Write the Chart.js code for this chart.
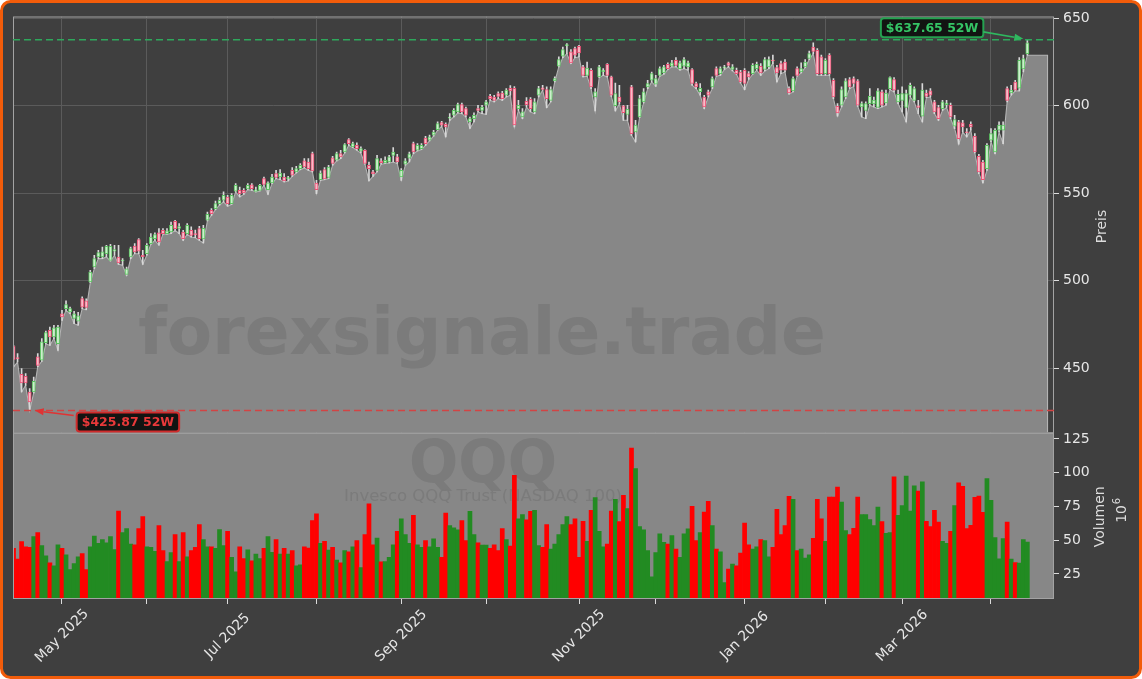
<!DOCTYPE html>
<html>
<head>
<meta charset="utf-8">
<title>QQQ 52W</title>
<script src="https://cdn.jsdelivr.net/npm/chart.js@4.4.1/dist/chart.umd.min.js"></script>
<style>
  html, body { margin: 0; padding: 0; background: #ffffff; }
  #wrap { width: 1142px; height: 679px; }
</style>
</head>
<body>
<div id="wrap"><canvas id="qqqChart" width="1142" height="679"></canvas></div>
<script>
/* ==========================================================================
   DATA - QQQ daily candles (trading day index 0 = first candle)
   ========================================================================== */
const opens = [
  462.6,455.9,446.6,445.4,436.5,436.5,456.5,454.6,464.7,471.7,
  467.9,464.1,481.2,484.1,482.2,478.5,477.0,489.8,488.5,499.3,
  507.9,513.6,513.6,515.5,511.7,517.0,513.6,511.3,503.7,513.6,
  519.9,523.5,514.6,515.5,521.2,524.1,527.4,528.9,527.0,527.9,
  534.0,530.0,527.9,527.0,528.9,527.0,529.8,524.0,534.6,540.3,
  541.2,544.1,546.0,547.9,544.1,551.2,551.7,551.7,552.5,554.9,
  551.0,551.7,558.4,552.0,555.9,561.2,559.3,559.3,558.4,563.1,
  562.2,564.1,568.5,567.9,572.7,555.9,557.8,563.5,559.0,570.2,
  568.9,572.7,573.6,580.7,576.5,577.4,574.0,574.6,566.0,562.2,
  563.1,568.5,567.3,567.9,571.7,570.8,559.3,566.6,570.0,578.4,
  574.6,575.5,581.6,580.3,583.2,586.4,590.4,589.4,592.9,594.6,
  596.5,600.7,598.4,590.8,592.7,598.4,597.4,600.3,605.4,605.0,
  607.0,607.3,606.0,610.0,610.0,598.4,593.6,602.6,603.7,596.5,
  606.0,610.2,609.2,603.1,614.2,622.6,628.3,634.4,630.8,632.7,
  634.0,622.2,617.4,620.3,605.0,616.5,619.5,623.7,616.5,600.0,
  605.0,600.0,595.0,610.8,585.0,593.6,602.2,610.8,614.6,612.3,
  617.4,618.8,623.7,622.6,626.0,621.2,622.6,622.2,620.7,612.7,
  608.0,605.0,607.9,610.8,621.2,618.4,621.6,624.5,620.7,620.3,
  619.3,620.3,618.4,618.4,621.2,622.6,620.7,622.2,626.0,621.8,
  624.1,625.0,609.8,608.5,621.2,619.3,622.2,627.0,633.6,631.7,
  627.9,618.4,628.9,614.6,599.7,600.3,605.0,614.9,615.5,614.2,
  599.3,597.4,601.2,601.0,599.0,607.9,601.6,609.8,615.0,602.2,
  603.0,599.0,606.0,603.1,600.0,594.0,607.3,608.5,602.2,599.0,
  598.4,600.7,600.3,588.3,590.8,590.2,585.0,589.4,582.6,571.1,
  567.9,564.1,580.3,573.6,586.0,586.0,609.8,607.3,613.6,610.0,
  621.0,629.8
];
const highs = [
  463.1,458.4,449.8,447.0,438.4,445.0,458.4,467.0,471.3,473.6,
  474.6,474.6,483.1,488.5,485.0,482.5,482.0,490.8,489.7,506.0,
  514.6,517.4,519.3,520.3,520.9,520.3,520.3,512.7,507.9,519.3,
  521.2,524.1,517.4,521.2,527.0,527.4,529.8,529.8,529.8,533.6,
  534.6,532.7,528.9,532.7,530.8,529.0,531.1,531.7,539.3,541.2,
  545.6,547.5,550.8,548.9,549.8,555.5,553.6,552.7,555.5,555.5,
  553.6,555.1,559.3,556.5,560.9,563.1,563.5,561.2,559.7,564.7,
  565.4,567.0,569.8,569.8,573.6,557.4,562.8,564.7,566.0,571.1,
  573.6,574.6,578.4,581.2,579.3,578.8,576.5,575.0,567.9,563.1,
  571.7,569.8,570.8,571.7,576.1,572.3,564.1,569.8,573.6,579.3,
  578.4,578.4,582.6,583.2,586.0,590.8,591.1,590.2,595.5,598.4,
  601.6,601.6,599.3,593.6,595.9,600.3,600.3,603.1,606.6,606.0,
  607.9,608.3,609.8,611.5,611.0,603.1,598.4,604.7,604.7,604.1,
  611.1,611.7,610.8,610.8,616.5,627.9,633.6,635.5,632.1,633.6,
  634.6,623.1,625.0,621.2,609.8,623.1,621.2,624.1,616.9,613.0,
  611.7,600.3,600.3,611.7,591.7,606.0,609.8,614.6,619.3,617.4,
  622.2,623.1,624.5,626.0,627.5,625.6,627.5,625.6,621.2,613.6,
  612.7,606.0,608.9,616.5,622.2,622.2,623.1,625.0,623.5,621.5,
  620.3,621.2,619.5,624.1,625.0,624.1,627.5,627.9,628.9,623.1,
  625.6,626.4,610.8,616.5,622.2,624.5,626.4,631.3,635.9,632.7,
  628.9,627.0,629.8,615.5,601.2,610.8,615.5,616.1,616.5,614.9,
  602.2,602.2,609.8,605.0,609.8,608.9,608.9,616.5,616.1,608.9,
  610.8,609.0,613.0,610.8,603.1,612.7,609.0,609.8,603.1,600.3,
  603.1,603.1,601.6,594.6,591.7,591.7,586.9,590.8,584.1,572.3,
  568.9,578.4,587.0,587.0,590.8,590.8,610.8,611.7,614.6,627.5,
  628.9,637.65
];
const lows = [
  450.8,453.6,436.5,440.3,425.87,436.0,451.0,454.0,464.0,463.1,
  467.0,460.3,477.4,483.1,481.2,475.5,474.6,484.1,483.5,499.0,
  507.0,512.7,512.7,513.6,511.3,514.6,509.4,508.9,503.1,512.7,
  515.5,515.5,509.4,514.6,520.9,523.1,520.3,526.6,526.6,527.0,
  528.9,527.0,523.1,526.6,525.0,524.6,523.1,521.6,534.2,537.4,
  540.7,543.2,545.1,542.6,543.7,550.8,547.9,549.4,552.1,551.7,
  550.8,551.3,554.5,549.4,555.5,558.4,557.8,556.5,557.0,559.7,
  561.6,563.5,564.5,563.1,562.2,549.8,557.4,557.8,558.4,566.0,
  568.5,569.8,573.0,577.4,576.1,574.6,573.0,566.6,557.1,559.7,
  562.2,566.6,567.0,567.3,567.9,567.0,557.4,566.0,567.9,572.7,
  574.2,575.0,577.4,579.9,582.6,586.0,588.3,582.2,591.7,593.6,
  595.9,595.5,593.6,587.0,590.8,596.5,595.5,595.1,603.1,602.2,
  604.1,603.1,605.0,606.0,587.9,597.4,592.7,599.3,596.5,595.5,
  605.0,608.9,598.9,602.2,613.6,622.2,627.5,629.8,624.1,627.5,
  627.9,616.5,616.9,609.8,597.0,616.1,617.4,616.5,605.4,597.0,
  601.2,591.7,591.7,583.1,579.3,593.2,601.6,609.8,613.6,611.1,
  616.9,618.0,620.7,622.2,622.2,620.3,621.2,620.3,611.7,609.8,
  606.0,598.4,605.0,609.8,616.9,617.4,620.7,622.2,619.9,618.0,
  613.0,609.2,615.0,618.0,620.3,617.4,619.9,621.2,624.1,613.6,
  618.4,619.3,606.6,607.9,616.9,618.8,621.8,626.4,629.8,617.4,
  617.4,617.4,617.4,604.1,594.0,599.3,604.1,609.8,611.0,599.7,
  593.6,592.7,600.3,599.3,598.4,599.3,600.3,609.2,607.9,601.2,
  596.5,590.8,605.0,602.2,595.5,590.8,604.6,605.0,595.5,591.7,
  597.4,599.0,592.7,586.9,578.0,585.0,582.2,586.0,573.0,561.2,
  555.9,563.1,579.5,572.7,585.0,578.4,602.2,606.0,608.5,608.5,
  619.3,628.9
];
const closes = [
  454.9,455.5,441.6,441.6,430.8,442.6,451.7,465.1,470.4,467.9,
  473.2,473.6,479.3,486.4,484.1,481.2,480.0,485.0,484.8,505.0,
  512.7,516.1,516.5,519.7,519.7,517.8,510.2,511.7,506.9,518.4,
  516.5,517.0,513.8,520.3,525.0,526.4,522.2,527.0,528.5,531.7,
  529.8,531.0,524.1,531.7,526.0,526.4,524.1,530.0,538.0,538.4,
  544.1,546.0,548.9,544.1,548.9,554.6,549.8,550.2,554.6,552.7,
  552.0,554.6,555.0,556.0,559.3,559.0,561.5,557.1,558.6,560.3,
  564.1,566.0,565.0,564.1,562.8,552.1,561.6,558.2,565.0,567.0,
  572.7,570.8,577.8,578.4,578.4,575.5,575.5,567.0,564.1,561.2,
  569.8,567.5,568.9,570.8,573.6,567.9,563.1,568.5,572.5,573.6,
  577.4,577.4,578.4,582.2,585.0,589.8,588.9,587.9,593.6,597.4,
  600.7,596.5,594.6,592.7,594.6,597.4,599.3,602.2,604.1,603.1,
  605.4,604.1,608.9,608.5,589.0,600.3,596.5,600.7,598.4,602.2,
  609.8,609.3,604.1,609.2,615.5,626.4,632.1,634.6,624.5,628.9,
  630.2,617.4,621.6,610.8,608.0,622.2,620.3,617.4,606.0,607.0,
  602.2,596.0,598.0,584.1,588.9,604.1,607.9,612.7,618.4,615.5,
  621.2,622.2,621.2,624.5,623.1,624.5,626.4,624.5,612.7,610.8,
  610.0,599.3,606.0,615.5,617.4,621.2,622.2,623.1,622.2,618.4,
  613.6,612.7,616.5,623.1,623.7,618.8,626.4,626.4,625.6,618.8,
  620.3,620.3,607.3,615.5,617.4,621.2,625.0,629.8,631.0,618.4,
  618.4,626.0,618.4,605.0,595.9,609.2,614.2,610.8,612.7,600.3,
  601.2,601.2,605.4,603.3,608.5,600.3,607.3,616.1,608.9,606.6,
  607.0,607.0,611.7,609.8,599.0,609.0,605.4,606.0,596.5,592.7,
  602.2,601.6,593.6,592.1,581.2,587.9,584.6,587.9,573.6,562.2,
  557.8,577.4,584.1,586.0,588.9,588.9,603.1,609.0,608.9,626.0,
  627.0,636.0
];
// Volumen in Mio.
const volumes = [
  43.9,35.9,48.9,45.1,44.6,52.6,55.6,45.9,38.4,33.2,
  31.0,46.6,43.9,39.2,28.2,32.7,37.7,40.0,28.2,45.1,
  53.1,47.6,50.4,48.1,52.6,43.1,71.5,55.6,58.6,47.1,
  46.6,58.6,67.5,45.1,44.6,41.7,60.8,42.2,34.2,40.7,
  54.1,34.2,55.6,37.7,42.2,44.6,61.6,50.4,45.1,45.1,
  43.9,57.8,45.9,56.6,37.2,26.5,45.1,36.4,42.9,34.7,
  39.7,36.4,43.9,52.6,40.9,50.4,39.7,43.9,39.7,42.2,
  31.0,31.7,45.1,44.1,64.5,69.5,47.6,49.1,42.7,44.6,
  35.2,33.2,42.2,41.4,45.1,49.6,29.7,54.1,77.0,46.6,
  51.6,33.9,34.2,37.2,46.6,56.6,65.8,54.1,47.6,68.3,
  46.6,44.6,49.6,45.1,50.9,44.6,37.2,70.0,60.8,59.1,
  57.6,64.5,49.6,71.3,54.1,48.1,46.4,46.4,43.9,46.6,
  42.2,58.6,50.4,45.6,98.1,65.8,69.0,65.0,71.3,72.0,
  45.9,44.6,61.6,43.4,47.1,54.1,61.6,67.5,61.6,65.8,
  37.2,64.0,49.1,72.0,81.5,56.6,45.1,47.1,71.5,80.2,
  63.8,83.2,73.3,118.3,103.1,60.1,57.6,42.2,22.8,40.7,
  54.6,48.4,47.1,53.4,43.4,37.2,54.6,58.3,75.0,49.6,
  55.6,70.8,78.7,60.8,43.4,41.4,18.5,28.5,32.2,31.0,
  40.4,62.6,46.6,43.4,45.1,50.4,49.6,37.7,44.6,72.8,
  54.1,60.8,82.4,80.2,42.2,43.4,36.7,39.2,51.4,80.2,
  65.8,49.1,81.9,81.9,89.4,78.2,57.1,54.1,58.8,81.9,
  69.0,69.0,65.3,60.8,74.5,63.8,55.1,55.6,96.9,68.3,
  75.7,97.4,71.5,90.2,86.4,93.2,64.0,60.1,72.0,63.3,
  49.1,47.6,56.6,75.7,92.4,89.9,58.6,60.9,81.7,82.6,
  70.7,95.7,79.5,51.9,36.2,51.2,63.3,35.9,33.4,33.0,
  50.4,48.6
];

// first trading day of each month (candle index) and its label
const monthTickIdx = [12, 33, 53, 75, 96, 117, 140, 159, 181, 201, 220, 242];
const monthTickLabels = ['May 2025', '', 'Jul 2025', '', 'Sep 2025', '', 'Nov 2025', '', 'Jan 2026', '', 'Mar 2026', ''];
const priceTicks = [450, 500, 550, 600, 650];
const volumeTicks = [25, 50, 75, 100, 125];

/* ==========================================================================
   STYLE
   ========================================================================== */
const BG = '#3f3f3f';
const PANEL_GRAY = '#878787';
const GRID = '#5b5b5b';
const FRAME = '#a3a3a3';
const TEXT = '#e6e6e6';
const FONT = '"DejaVu Sans", "Liberation Sans", sans-serif';

const PRICE_MIN = 413.3, PRICE_MAX = 651;
const VOL_MIN = 6.4, VOL_MAX = 129.7;
const X_MIN = -0.13, X_MAX = 257.6;

Chart.defaults.font.family = FONT;

const isUp = closes.map((c, i) => c >= opens[i]);
const lastIdx = closes.length - 1;

// grey area under the lows, carried flat to the right edge
const fillData = lows.map((l, i) => ({ x: i, y: l }));
fillData.push({ x: lastIdx + 5, y: lows[lastIdx] });
fillData.push({ x: lastIdx + 5, y: PRICE_MIN });

const wickData = lows.map((l, i) => ({ x: i, y: [l, highs[i]] }));
const bodyData = opens.map((o, i) => ({ x: i, y: [Math.min(o, closes[i]), Math.max(o, closes[i])] }));
const volData = volumes.map((v, i) => ({ x: i, y: v }));

/* ==========================================================================
   HELPERS
   ========================================================================== */
function roundRectPath(ctx, x, y, w, h, r) {
    ctx.beginPath();
    ctx.moveTo(x + r, y);
    ctx.arcTo(x + w, y, x + w, y + h, r);
    ctx.arcTo(x + w, y + h, x, y + h, r);
    ctx.arcTo(x, y + h, x, y, r);
    ctx.arcTo(x, y, x + w, y, r);
    ctx.closePath();
}

function drawArrow(ctx, x1, y1, x2, y2, color) {
    const a = Math.atan2(y2 - y1, x2 - x1);
    const head = 9, half = 3.5;
    const bx = x2 - head * Math.cos(a), by = y2 - head * Math.sin(a);
    ctx.strokeStyle = color;
    ctx.fillStyle = color;
    ctx.lineWidth = 1.6;
    ctx.setLineDash([]);
    ctx.beginPath();
    ctx.moveTo(x1, y1);
    ctx.lineTo(bx, by);
    ctx.stroke();
    ctx.beginPath();
    ctx.moveTo(x2, y2);
    ctx.lineTo(bx + half * Math.sin(a), by - half * Math.cos(a));
    ctx.lineTo(bx - half * Math.sin(a), by + half * Math.cos(a));
    ctx.closePath();
    ctx.fill();
}

function tagWidth(ctx, text) {
    ctx.font = 'bold 12.5px ' + FONT;
    return ctx.measureText(text).width + 10;
}

function drawTag(ctx, text, x, y, border, color) {
    const w = tagWidth(ctx, text), h = 19;
    roundRectPath(ctx, x, y, w, h, 3);
    ctx.fillStyle = '#121412';
    ctx.fill();
    ctx.lineWidth = 2;
    ctx.strokeStyle = border;
    ctx.stroke();
    ctx.fillStyle = color;
    ctx.textAlign = 'left';
    ctx.textBaseline = 'middle';
    ctx.fillText(text, x + 5, y + h / 2 + 0.5);
}

function hLineDashed(ctx, area, y, color) {
    ctx.save();
    ctx.strokeStyle = color;
    ctx.lineWidth = 1.5;
    ctx.setLineDash([7, 4]);
    ctx.beginPath();
    ctx.moveTo(area.left, y);
    ctx.lineTo(area.right, y);
    ctx.stroke();
    ctx.restore();
}

/* ==========================================================================
   DECOR PLUGIN (panels, watermark, annotations, labels)
   ========================================================================== */
const decorPlugin = {
    id: 'qqqDecor',
    beforeDraw(chart) {
        const ctx = chart.ctx;
        ctx.save();
        ctx.fillStyle = '#ffffff';
        ctx.fillRect(0, 0, chart.width, chart.height);
        roundRectPath(ctx, 1.5, 1.5, chart.width - 3, chart.height - 3, 9);
        ctx.fillStyle = BG;
        ctx.fill();
        ctx.restore();
    },
    beforeDatasetsDraw(chart) {
        const ctx = chart.ctx, a = chart.chartArea, v = chart.scales.v;
        ctx.save();
        ctx.fillStyle = PANEL_GRAY;
        ctx.fillRect(a.left, v.top, a.right - a.left, v.bottom - v.top);
        ctx.restore();
    },
    beforeDatasetDraw(chart, args) {
        if (args.index !== 1) return;
        // watermark sits above the grey fill but below bars and candles
        const ctx = chart.ctx, a = chart.chartArea, y = chart.scales.y;
        ctx.save();
        ctx.textAlign = 'center';
        ctx.fillStyle = '#7b7b7b';
        ctx.textBaseline = 'alphabetic';
        ctx.font = 'bold 66px ' + FONT;
        ctx.fillText('forexsignale.trade', a.left + 469, y.bottom - 79);
        ctx.textBaseline = 'middle';
        ctx.font = 'bold 58px ' + FONT;
        ctx.fillText('QQQ', a.left + 470, y.bottom + 34);
        ctx.font = '16.5px ' + FONT;
        ctx.fillText('Invesco QQQ Trust (NASDAQ 100)', a.left + 470, y.bottom + 64);
        ctx.restore();
    },
    afterDatasetsDraw(chart) {
        const ctx = chart.ctx, a = chart.chartArea;
        const x = chart.scales.x, y = chart.scales.y, v = chart.scales.v;

        // panel frames
        ctx.save();
        ctx.strokeStyle = FRAME;
        ctx.lineWidth = 1;
        ctx.strokeRect(a.left + 0.5, y.top + 0.5, a.right - a.left - 1, y.bottom - y.top);
        ctx.strokeRect(a.left + 0.5, v.top + 0.5, a.right - a.left - 1, v.bottom - v.top - 1);
        ctx.restore();

        // 52W high / low
        let hiIdx = 0, loIdx = 0;
        highs.forEach((h, i) => { if (h > highs[hiIdx]) hiIdx = i; });
        lows.forEach((l, i) => { if (l < lows[loIdx]) loIdx = i; });

        const hiY = y.getPixelForValue(highs[hiIdx]);
        const loY = y.getPixelForValue(lows[loIdx]);
        hLineDashed(ctx, a, hiY, '#2ea85c');
        hLineDashed(ctx, a, loY, '#d24444');

        ctx.save();
        const hiX = x.getPixelForValue(hiIdx);
        const hiText = '$' + highs[hiIdx].toFixed(2) + ' 52W';
        const hw = tagWidth(ctx, hiText);
        drawTag(ctx, hiText, hiX - 44 - hw, hiY - 21.5, '#25a150', '#35c465');
        drawArrow(ctx, hiX - 44, hiY - 8, hiX - 4, hiY - 1, '#2fb85f');

        const loX = x.getPixelForValue(loIdx);
        const loText = '$' + lows[loIdx].toFixed(2) + ' 52W';
        drawTag(ctx, loText, loX + 47, loY + 2, '#cf2b2b', '#e8393a');
        drawArrow(ctx, loX + 44, loY + 5, loX + 5, loY, '#e03333');
        ctx.restore();
    },
    afterDraw(chart) {
        const ctx = chart.ctx, a = chart.chartArea;
        const x = chart.scales.x, y = chart.scales.y, v = chart.scales.v;
        ctx.save();
        ctx.fillStyle = TEXT;

        // month labels, rotated 45deg and centred on the tick
        ctx.font = '14px ' + FONT;
        ctx.textAlign = 'center';
        ctx.textBaseline = 'middle';
        monthTickIdx.forEach((idx, k) => {
            if (!monthTickLabels[k]) return;
            ctx.save();
            ctx.translate(x.getPixelForValue(idx), a.bottom + 37);
            ctx.rotate(-Math.PI / 4);
            ctx.fillText(monthTickLabels[k], 0, 0);
            ctx.restore();
        });

        // axis titles
        ctx.fillStyle = '#dcdcdc';
        ctx.font = '14px ' + FONT;
        ctx.save();
        ctx.translate(1102.5, (y.top + y.bottom) / 2 + 2);
        ctx.rotate(-Math.PI / 2);
        ctx.fillText('Preis', 0, 0);
        ctx.restore();

        const vMid = (v.top + v.bottom) / 2;
        ctx.save();
        ctx.translate(1100.5, vMid + 1);
        ctx.rotate(-Math.PI / 2);
        ctx.fillText('Volumen', 0, 0);
        ctx.restore();

        ctx.save();
        ctx.translate(1122, vMid);
        ctx.rotate(-Math.PI / 2);
        ctx.textAlign = 'left';
        ctx.fillText('10', -7, 0);
        ctx.font = '10px ' + FONT;
        ctx.fillText('6', 11.5, -5);
        ctx.restore();

        // orange outer border
        roundRectPath(ctx, 1.5, 1.5, chart.width - 3, chart.height - 3, 9);
        ctx.strokeStyle = '#f25c0a';
        ctx.lineWidth = 3;
        ctx.stroke();
        ctx.restore();
    }
};

/* ==========================================================================
   CHART
   ========================================================================== */
const tickFont = { family: FONT, size: 14 };

new Chart(document.getElementById('qqqChart'), {
    type: 'bar',
    data: {
        datasets: [
            {
                type: 'line',
                label: 'Low',
                data: fillData,
                yAxisID: 'y',
                borderColor: '#b4b4b4',
                borderWidth: 1.1,
                backgroundColor: PANEL_GRAY,
                fill: 'start',
                pointRadius: 0,
                tension: 0,
                order: 3
            },
            {
                label: 'Volumen',
                data: volData,
                yAxisID: 'v',
                backgroundColor: volumes.map((_, i) => isUp[i] ? '#228b22' : '#ff0000'),
                borderWidth: 0,
                barPercentage: 1,
                categoryPercentage: 1,
                grouped: false,
                order: 2
            },
            {
                label: 'Docht',
                data: wickData,
                yAxisID: 'y',
                backgroundColor: '#d8d8d8',
                barThickness: 1,
                grouped: false,
                order: 1
            },
            {
                label: 'Kerze',
                data: bodyData,
                yAxisID: 'y',
                backgroundColor: isUp.map(u => u ? '#cdeecd' : '#f8bcc8'),
                borderColor: isUp.map(u => u ? '#5cc461' : '#ec5276'),
                borderWidth: 1,
                borderSkipped: false,
                barThickness: 3.2,
                minBarLength: 1,
                grouped: false,
                order: 0
            }
        ]
    },
    options: {
        responsive: false,
        animation: false,
        events: [],
        layout: { padding: { left: 13, top: 16.5, right: 0, bottom: 0 } },
        plugins: {
            legend: { display: false },
            tooltip: { enabled: false }
        },
        scales: {
            x: {
                type: 'linear',
                min: X_MIN,
                max: X_MAX,
                offset: false,
                afterBuildTicks: s => { s.ticks = monthTickIdx.map(t => ({ value: t })); },
                afterFit: s => { s.height = 80; },
                ticks: { display: false },
                grid: { color: GRID, offset: false, tickColor: '#dcdcdc', tickLength: 5 },
                border: { display: false }
            },
            y: {
                type: 'linear',
                position: 'right',
                stack: 'panels',
                stackWeight: 2.5,
                min: PRICE_MIN,
                max: PRICE_MAX,
                afterBuildTicks: s => { s.ticks = priceTicks.map(t => ({ value: t })); },
                afterFit: s => { s.width = 88; },
                ticks: { color: TEXT, font: tickFont, padding: 4 },
                grid: { color: GRID, tickColor: '#dcdcdc', tickLength: 5 },
                border: { display: false }
            },
            v: {
                type: 'linear',
                position: 'right',
                stack: 'panels',
                stackWeight: 1,
                min: VOL_MIN,
                max: VOL_MAX,
                afterBuildTicks: s => { s.ticks = volumeTicks.map(t => ({ value: t })); },
                afterFit: s => { s.width = 88; },
                ticks: { color: TEXT, font: tickFont, padding: 4 },
                grid: { drawOnChartArea: false, tickColor: '#dcdcdc', tickLength: 5 },
                border: { display: false }
            }
        }
    },
    plugins: [decorPlugin]
});
</script>
</body>
</html>
